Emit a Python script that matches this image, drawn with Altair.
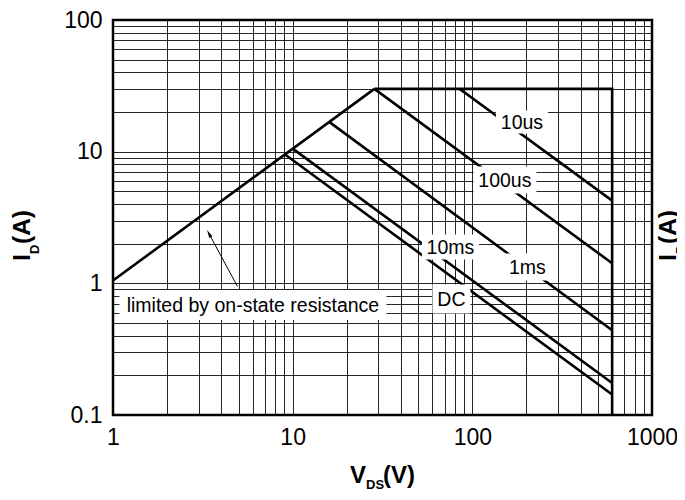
import altair as alt
import pandas as pd

# ---- data (V_DS in V, I_D in A), log-log SOA ----
series = ["Ron", "Ron", "limit", "limit", "limit", "10us", "10us", "100us", "100us",
          "1ms", "1ms", "10ms", "10ms", "DC", "DC"]
vds = [1, 28.5, 28.5, 600, 600, 85, 600, 28.5, 600, 16.1, 600, 10.04, 600, 9.03, 600]
ids = [1.05, 30, 30, 30, 0.1, 30, 4.25, 30, 1.42, 16.7, 0.44, 10.5, 0.175, 9.55, 0.143]
order = [0, 1, 0, 1, 2, 0, 1, 0, 1, 0, 1, 0, 1, 0, 1]

label_text = ["10us", "100us", "10ms", "1ms", "DC", "limited by on-state resistance"]
label_v = [188.8, 151.8, 75.5, 202.6, 76.5, 6.01]
label_i = [16.8, 6.1, 1.89, 1.33, 0.761, 0.686]

arrow_v = [4.93, 3.42]
arrow_i = [0.947, 2.39]

x_grid = [1, 2, 3, 4, 5, 6, 7, 8, 9, 10, 20, 30, 40, 50, 60, 70, 80, 90,
          100, 200, 300, 400, 500, 600, 700, 800, 900, 1000]
y_grid = [0.1, 0.2, 0.3, 0.4, 0.5, 0.6, 0.7, 0.8, 0.9, 1, 2, 3, 4, 5, 6, 7, 8, 9,
          10, 20, 30, 40, 50, 60, 70, 80, 90, 100]
x_labels = [1, 10, 100, 1000]
y_labels = [0.1, 1, 10, 100]

# ---- styles ----
FONT = "Liberation Sans"
box_sizes = {"10us": (52, 23), "100us": (63, 27), "10ms": (57, 25), "1ms": (51, 27),
             "DC": (38, 29), "limited by on-state resistance": (267, 30)}

W, H = 539, 395

curves = pd.DataFrame({"series": series, "V": vds, "I": ids, "order": order})
labels = pd.DataFrame({"label": label_text, "V": label_v, "I": label_i})
arrow = pd.DataFrame({"V": arrow_v, "I": arrow_i, "order": [0, 1]})


def X():
    return alt.X("V:Q", scale=alt.Scale(type="log", domain=[1, 1000], nice=False),
                 axis=alt.Axis(values=x_grid, title=None, grid=True, ticks=False, domain=False,
                               labelExpr="indexof(%s, datum.value) >= 0 ? format(datum.value, '~g') : ''" % x_labels,
                               labelFont=FONT, labelFontSize=23, labelColor="#000",
                               labelPadding=11, labelFlush=False, labelOverlap=False,
                               gridColor="#000", gridWidth=1, gridOpacity=0.85))


def Y():
    return alt.Y("I:Q", scale=alt.Scale(type="log", domain=[0.1, 100], nice=False),
                 axis=alt.Axis(values=y_grid, title=None, grid=True, ticks=False, domain=False,
                               labelExpr="indexof(%s, datum.value) >= 0 ? format(datum.value, '~g') : ''" % y_labels,
                               labelFont=FONT, labelFontSize=23, labelColor="#000",
                               labelPadding=11, labelFlush=False, labelOverlap=False,
                               gridColor="#000", gridWidth=1, gridOpacity=0.85))


lines = alt.Chart(curves).mark_line(color="#000", strokeWidth=2.6).encode(
    x=X(), y=Y(), detail="series:N", order="order:Q")

layers = [lines]

for lab in label_text:
    w, h = box_sizes[lab]
    r = h / w
    path = "M-1,-%.4f L1,-%.4f L1,%.4f L-1,%.4f Z" % (r, r, r, r)
    box = alt.Chart(labels).transform_filter(alt.datum.label == lab).mark_point(
        shape=path, filled=True, fill="#fff", fillOpacity=1, strokeWidth=0, opacity=1,
        size=w * w).encode(x=X(), y=Y())
    layers.append(box)

texts = alt.Chart(labels).mark_text(font=FONT, fontSize=19.5, color="#000",
                                    align="center", baseline="middle", dy=1).encode(
    x=X(), y=Y(), text="label:N")
layers.append(texts)

arrow_line = alt.Chart(arrow).mark_line(color="#000", strokeWidth=1).encode(
    x=X(), y=Y(), order="order:Q")
arrow_head = alt.Chart(arrow).transform_filter(alt.datum.order == 1).mark_point(
    shape="M0,-1 L0.45,1 L-0.45,1 Z", filled=True, fill="#000", strokeWidth=0, opacity=1,
    size=64, angle=331.6).encode(x=X(), y=Y())
layers += [arrow_line, arrow_head]

# ---- axis titles with subscripts (composed text) ----
one = alt.Data(values=[{}])


def txt(s, x, y, size, angle=0, align="left", base="alphabetic"):
    return alt.Chart(one).mark_text(text=s, font=FONT, fontSize=size, fontWeight="bold",
                                    color="#000", align=align, baseline=base,
                                    angle=angle).encode(x=alt.value(x), y=alt.value(y))


# x title  V_DS(V)
layers += [txt("V", 237, 463, 24), txt("DS", 253, 469, 13), txt("(V)", 270, 463, 24)]
# y title  I_D(A)  rotated (second copy is the clipped one at the right edge)
for bx in (-83, 563):
    layers += [txt("I", bx, 241, 24.5, angle=270),
               txt("D", bx + 9, 234, 13, angle=270),
               txt("(A)", bx, 224, 24.5, angle=270)]

chart = alt.layer(*layers).properties(
    width=W, height=H,
    autosize=alt.AutoSizeParams(type="none"),
    padding={"left": 105, "top": 12, "right": 25, "bottom": 77},
).configure_view(stroke="#000", strokeWidth=2.5)

chart.save("out.html", embed_options={"renderer": "svg", "actions": False})
